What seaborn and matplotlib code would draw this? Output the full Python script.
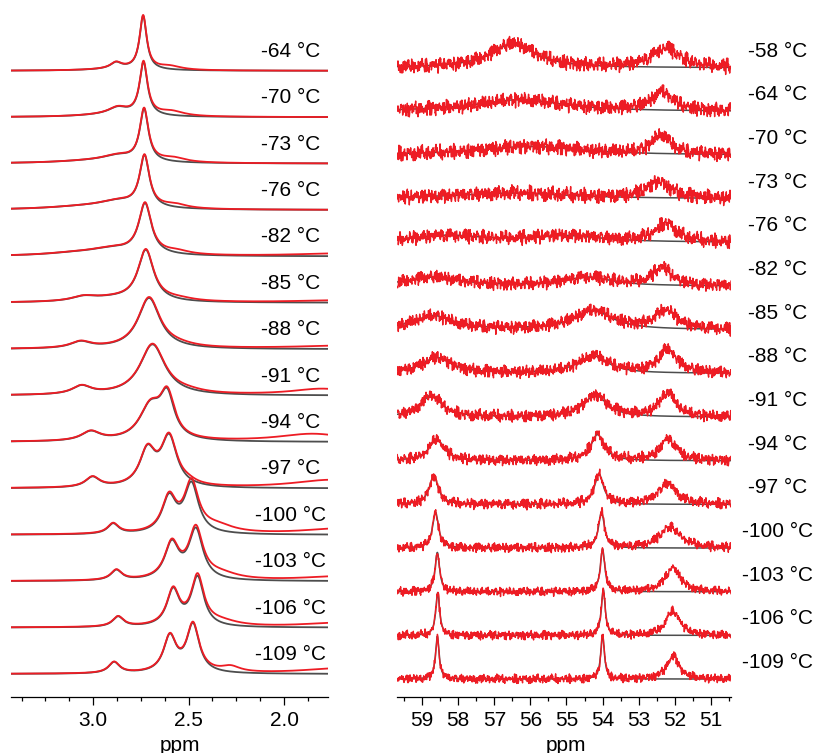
import numpy as np
import pandas as pd
import matplotlib
matplotlib.use("Agg")
import matplotlib.pyplot as plt
from matplotlib.ticker import MultipleLocator
import seaborn as sns

# ---- left panel: 1H spectra, top trace first
h_temps = ["-64", "-70", "-73", "-76", "-82", "-85", "-88", "-91", "-94",
           "-97", "-100", "-103", "-106", "-109"]
# fitted (grey) lorentzians: centre ppm, fwhm ppm, height
h_fit_centers = [[2.738, 2.88, 2.85], [2.736, 2.87, 2.90], [2.733, 2.87, 3.00],
                 [2.731, 2.87, 3.05], [2.728, 2.90, 3.10], [2.724, 3.05, 2.90],
                 [2.707, 3.065], [2.689, 3.06], [2.70, 2.612, 3.012],
                 [2.715, 2.602, 3.003], [2.602, 2.485, 2.895], [2.588, 2.462, 2.878],
                 [2.581, 2.453, 2.869], [2.598, 2.477, 2.89]]
h_fit_widths = [[0.045, 0.07, 0.35], [0.05, 0.12, 0.40], [0.055, 0.20, 0.50],
                [0.062, 0.25, 0.50], [0.08, 0.30, 0.40], [0.10, 0.15, 0.35],
                [0.14, 0.13], [0.16, 0.12], [0.14, 0.09, 0.12],
                [0.10, 0.10, 0.09], [0.09, 0.09, 0.07], [0.09, 0.09, 0.07],
                [0.08, 0.08, 0.07], [0.08, 0.08, 0.07]]
h_fit_heights = [[1.15, 0.13, 0.04], [1.14, 0.15, 0.05], [1.12, 0.13, 0.05],
                 [1.10, 0.15, 0.06], [1.08, 0.14, 0.05], [1.10, 0.09, 0.08],
                 [1.10, 0.14], [1.10, 0.18], [0.72, 0.88, 0.20],
                 [0.77, 1.05, 0.22], [0.76, 1.05, 0.22], [0.77, 1.07, 0.22],
                 [0.77, 1.05, 0.22], [0.77, 1.03, 0.24]]
# extra intensity only in the measured (red) trace
h_extra_centers = [[2.60], [2.59], [2.58], [2.57], [2.56, 1.70], [2.55, 1.70],
                   [2.55, 1.60], [2.50, 1.80], [2.58, 1.85], [2.50, 1.75],
                   [2.35, 1.70], [2.33, 1.70], [2.33, 1.70], [2.28, 1.70]]
h_extra_widths = [[0.15], [0.16], [0.16], [0.15], [0.16, 0.6], [0.20, 0.6],
                  [0.20, 0.8], [0.20, 0.4], [0.05, 0.45], [0.10, 0.5],
                  [0.22, 0.5], [0.22, 0.5], [0.22, 0.5], [0.12, 0.5]]
h_extra_heights = [[0.08], [0.10], [0.09], [0.08], [0.07, 0.06], [0.05, 0.05],
                   [0.04, 0.08], [0.04, 0.14], [0.05, 0.17], [0.05, 0.18],
                   [0.15, 0.13], [0.12, 0.10], [0.10, 0.10], [0.12, 0.12]]

# ---- right panel: 13C spectra, top trace first
c_temps = ["-58", "-64", "-70", "-73", "-76", "-82", "-85", "-88", "-91",
           "-94", "-97", "-100", "-103", "-106", "-109"]
c_fit_centers = [[56.48], [56.3], [56.0], [56.5], [58.3, 55.0], [58.7, 54.4],
                 [58.7, 54.26], [58.6, 54.26], [58.75, 54.2], [58.6, 54.14],
                 [58.68, 54.1], [58.63, 54.03], [58.58, 54.0], [58.57, 53.98],
                 [58.58, 54.0]]
c_fit_widths = [[1.5], [3.0], [3.5], [4.0], [2.5, 2.5], [1.8, 1.6],
                [1.3, 1.3], [1.0, 1.0], [0.7, 0.8], [0.5, 0.45],
                [0.3, 0.3], [0.2, 0.2], [0.15, 0.15], [0.13, 0.13], [0.12, 0.12]]
c_fit_heights = [[0.55], [0.27], [0.20], [0.13], [0.15, 0.14], [0.20, 0.20],
                 [0.32, 0.43], [0.36, 0.40], [0.50, 0.50], [0.50, 0.60],
                 [0.65, 0.70], [0.82, 0.82], [0.90, 0.98], [0.98, 1.05],
                 [0.98, 1.02]]
c_extra_centers = [52.25, 52.35, 52.38, 52.45, 52.24, 52.35, 52.24, 52.2, 52.2,
                   52.18, 52.2, 52.13, 52.05, 52.05, 52.05]
c_extra_widths = [0.9, 0.7, 0.6, 0.8, 0.7, 0.6, 0.7, 0.6, 0.55, 0.55, 0.6,
                  0.7, 0.5, 0.45, 0.4]
c_extra_heights = [0.45, 0.42, 0.45, 0.37, 0.42, 0.42, 0.43, 0.55, 0.55, 0.5,
                   0.48, 0.48, 0.55, 0.57, 0.53]
# noise level of each 13C trace
c_noise_levels = [0.10, 0.10, 0.10, 0.10, 0.095, 0.09, 0.09, 0.085, 0.08,
                  0.075, 0.07, 0.065, 0.06, 0.06, 0.06]

# measured noise texture (hand-typed sequences, combined per trace)
noise_a = [0.62, -0.35, 0.91, -0.78, 0.12, 0.47, -0.96, 0.28, -0.15, 0.73,
           -0.52, 0.05, 0.88, -0.67, 0.34, -0.21, -0.84, 0.59, 0.17, -0.43,
           0.95, -0.09, -0.71, 0.41, 0.26, -0.58, 0.79, -0.32, 0.08, -0.89,
           0.54, 0.21, -0.63, 0.97, -0.27, -0.46, 0.69, 0.03, -0.81, 0.38,
           -0.12, 0.85, -0.55, 0.31, -0.99, 0.64, 0.14, -0.37, 0.76, -0.69,
           0.23, -0.18, 0.49]
noise_b = [-0.44, 0.83, -0.19, 0.57, -0.91, 0.29, 0.66, -0.61, 0.11, -0.33,
           0.94, -0.74, 0.39, 0.02, -0.86, 0.51, -0.24, 0.72, -0.48, 0.18,
           -0.97, 0.61, 0.36, -0.14, -0.68, 0.87, -0.39, 0.07, 0.45, -0.82,
           0.25, -0.57, 0.93, -0.06, -0.29, 0.68, -0.93, 0.42, 0.15, -0.52,
           0.78]

RED = "#ED1C24"
GREY = "#4D4D4D"
FS = 15


def lorentz(x, centers, widths, heights):
    y = np.zeros_like(x)
    for c, w, h in zip(centers, widths, heights):
        y += h / (1 + ((x - c) / (w / 2)) ** 2)
    return y


def trace_noise(n, i):
    na, nb = len(noise_a), len(noise_b)
    j = np.arange(n)
    a = np.array(noise_a)[(j * 7 + i * 19) % na]
    b = np.array(noise_b)[(j * 5 + i * 13) % nb]
    return a + b


sns.set_style("ticks", {"text.color": "black", "xtick.color": "black",
                        "axes.edgecolor": "black", "axes.labelcolor": "black"})
plt.rcParams['font.family'] = ['Liberation Sans', 'DejaVu Sans']

fig = plt.figure(figsize=(8.16, 7.53), dpi=100)
ax1 = fig.add_axes([11 / 816, 56 / 753, 317 / 816, 689 / 753])
ax2 = fig.add_axes([397.3 / 816, 56 / 753, 333.7 / 816, 689 / 753])

# -- left
x_h = np.linspace(3.43, 1.77, 900)
n_h = len(h_temps)
for i, t in enumerate(h_temps):
    off = n_h - 1 - i
    fit = lorentz(x_h, h_fit_centers[i], h_fit_widths[i], h_fit_heights[i])
    meas = fit + lorentz(x_h, h_extra_centers[i], h_extra_widths[i],
                         h_extra_heights[i])
    sns.lineplot(x=x_h, y=fit + off, ax=ax1, color=GREY, lw=1.3,
                 estimator=None, sort=False)
    sns.lineplot(x=x_h, y=meas + off, ax=ax1, color=RED, lw=1.3,
                 estimator=None, sort=False)
    ax1.text(1.965, off + 0.42, f"{t} °C", ha="center", va="center",
             fontsize=FS)
ax1.set_xlim(3.43, 1.77)
ax1.set_ylim(-0.496, 14.353)

# -- right
x_c = np.linspace(59.69, 50.44, 1000)
n_c = len(c_temps)
for i, t in enumerate(c_temps):
    off = n_c - 1 - i
    fit = lorentz(x_c, c_fit_centers[i], c_fit_widths[i], c_fit_heights[i])
    meas = fit + lorentz(x_c, [c_extra_centers[i]], [c_extra_widths[i]],
                         [c_extra_heights[i]])
    meas = meas + c_noise_levels[i] * trace_noise(len(x_c), i)
    sns.lineplot(x=x_c, y=fit + off, ax=ax2, color=GREY, lw=1.1,
                 estimator=None, sort=False)
    sns.lineplot(x=x_c, y=meas + off, ax=ax2, color=RED, lw=1.0,
                 estimator=None, sort=False)
    ax2.text(49.14, off + 0.38, f"{t} °C", ha="center", va="center",
             fontsize=FS, clip_on=False)
ax2.set_xlim(59.69, 50.44)
ax2.set_ylim(-0.412, 15.37)

for ax, major, minor in [(ax1, 0.5, 0.125), (ax2, 1.0, 0.5)]:
    sns.despine(ax=ax, left=True)
    ax.set_yticks([])
    ax.set_ylabel("")
    ax.xaxis.set_major_locator(MultipleLocator(major))
    ax.xaxis.set_minor_locator(MultipleLocator(minor))
    ax.tick_params(axis="x", which="major", length=6, width=0.9,
                   labelsize=FS, pad=4)
    ax.tick_params(axis="x", which="minor", length=3, width=0.9)
    ax.spines["bottom"].set_linewidth(0.9)
    ax.set_xlabel("ppm", fontsize=FS)
    ax.set_facecolor("none")

ax1.xaxis.set_major_formatter(plt.FuncFormatter(lambda v, p: f"{v:.1f}"))
ax2.xaxis.set_major_formatter(plt.FuncFormatter(lambda v, p: f"{v:.0f}"))
ax1.xaxis.set_label_coords(0.533, -0.056)
ax2.xaxis.set_label_coords(0.506, -0.056)

fig.savefig("out.png", dpi=100)
